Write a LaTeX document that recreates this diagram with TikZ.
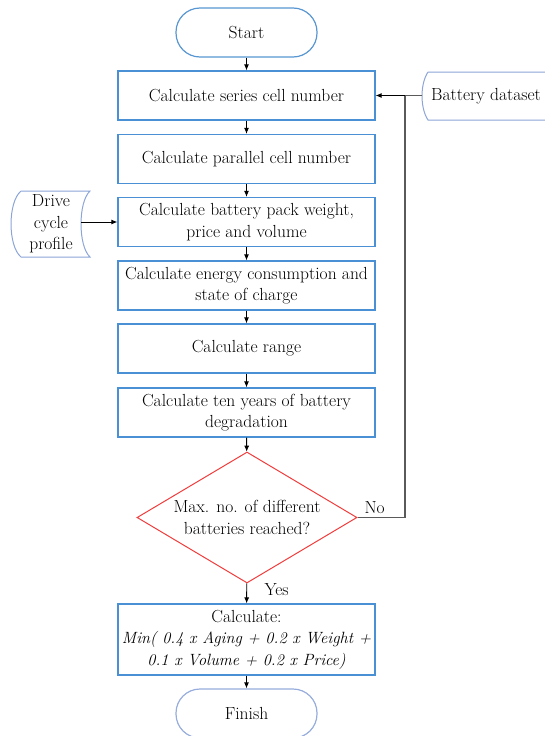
\documentclass[tikz,border=0pt]{standalone}
\usetikzlibrary{shapes.geometric,arrows.meta}
\definecolor{boxblue}{RGB}{74,144,212}
\definecolor{termblue}{RGB}{88,150,210}
\definecolor{finblue}{RGB}{150,172,220}
\definecolor{dataline}{RGB}{140,165,215}
\definecolor{diared}{RGB}{240,60,60}
\definecolor{loopgray}{RGB}{90,90,90}
\begin{document}
\begin{tikzpicture}[x=1pt,y=-1pt,
  every node/.style={font=\fontsize{17.5}{21.5}\selectfont, text=black},
  procbox/.style={draw=boxblue, line width=1.2pt, minimum width=257pt, minimum height=49pt, align=center, inner sep=0pt},
  term/.style={draw=termblue, line width=1.2pt, rounded corners=24pt, minimum width=141pt, minimum height=49pt},
  decision/.style={draw=diared, line width=1pt, shape=diamond, aspect=1.68, minimum width=220pt, minimum height=131pt, inner sep=0pt, align=center},
  flow/.style={-{Latex[length=6pt,width=5pt]}, line width=0.9pt, black},
  loopline/.style={line width=1.5pt, loopgray},
  datashape/.style={draw=dataline, line width=1pt},
  formula/.style={font=\fontsize{16.3}{21.5}\selectfont\itshape}
]
\useasboundingbox (0,0) rectangle (545,736);

\node[term] (start) at (246.5,32.5) {Start};
\node[procbox] (b1) at (246.5,95.5) {Calculate series cell number};
\node[procbox] (b2) at (246.5,159) {Calculate parallel cell number};
\node[procbox] (b3) at (246.5,222) {Calculate battery pack weight,\\price and volume};
\node[procbox] (b4) at (246.5,285.5) {Calculate energy consumption and\\state of charge};
\node[procbox] (b5) at (246.5,348.5) {Calculate range};
\node[procbox] (b6) at (246.5,412.5) {Calculate ten years of battery\\degradation};
\node[decision] (dia) at (247,517.5) {Max. no. of different\\batteries reached?};
\node[procbox, minimum height=71pt] (b7) at (246.5,639.5) {Calculate:\\{\fontsize{16.3}{21.5}\selectfont\itshape Min( 0.4 x Aging + 0.2 x Weight +}\\{\fontsize{16.3}{21.5}\selectfont\itshape 0.1 x Volume + 0.2 x Price)}};
\node[term, draw=finblue] (finish) at (246.5,713.5) {Finish};

% stored data shapes
\draw[datashape] (21,191) -- (90,191) .. controls (78,202) and (78,246) .. (90,257) -- (21,257) .. controls (7.7,246) and (7.7,202) .. (21,191);
\node[align=center] (drive) at (51,224) {Drive\\cycle\\profile};
\coordinate (drvout) at (81,222);

\draw[datashape] (428,72) -- (552,72) .. controls (544,84) and (544,108) .. (552,120) -- (428,120) .. controls (420,108) and (420,84) .. (428,72);
\node (data) at (486,96) {Battery dataset};
\coordinate (dsin) at (422,95.5);
\coordinate (lc) at (405,95.5);

% flow arrows
\draw[flow] (start) -- (b1);
\draw[flow] (b1) -- (b2);
\draw[flow] (b2) -- (b3);
\draw[flow] (b3) -- (b4);
\draw[flow] (b4) -- (b5);
\draw[flow] (b5) -- (b6);
\draw[flow] (b6) -- (dia);
\draw[flow] (dia) -- (b7);
\draw[flow] (b7) -- (finish);
\draw[flow] (drvout) -- (b3.west);

% loop back
\draw[loopline] (dia.east) -| (lc);
\draw[loopline] (dsin) -- (lc);
\draw[flow] (lc) -- (b1.east);

\node[anchor=west] (nolab) at (361,508) {No};
\node[anchor=west] (yeslab) at (261,590) {Yes};
\end{tikzpicture}
\end{document}
